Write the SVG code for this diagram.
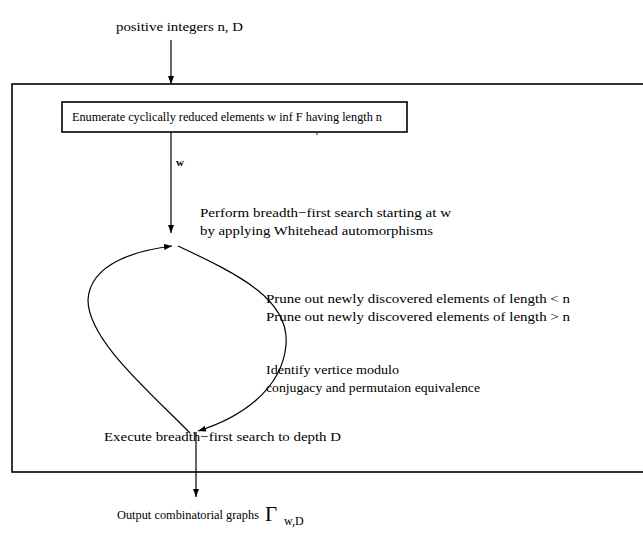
<svg xmlns="http://www.w3.org/2000/svg" width="643" height="546" viewBox="0 0 643 546">
  <style>
    text { font-family: "Liberation Serif", "Times New Roman", serif; font-size: 13.5px; fill: #000; }
    .sm { font-size: 11.8px; }
    .ln { fill: none; stroke: #000; stroke-width: 1.2; }
    .box { fill: none; stroke: #000; stroke-width: 1.6; }
  </style>
  <defs>
    <marker id="ah" markerWidth="8" markerHeight="6" refX="8" refY="3" orient="auto" markerUnits="userSpaceOnUse">
      <path d="M0,0 L8,3 L0,6 Z" fill="#000"/>
    </marker>
  </defs>
  <rect width="643" height="546" fill="#fff"/>

  <!-- outer frame, open beyond the right edge -->
  <g id="frame">
    <rect class="box" x="12" y="84" width="640" height="388"/>
  </g>

  <g id="input">
    <text class="sm" x="116" y="31" textLength="127" lengthAdjust="spacingAndGlyphs">positive integers n, D</text>
  </g>

  <g id="enumerate">
    <rect class="box" x="62" y="102" width="345" height="30"/>
    <text class="sm" x="72" y="121" textLength="310" lengthAdjust="spacingAndGlyphs">Enumerate cyclically reduced elements w inf F   having length n</text>
    <circle cx="317" cy="134" r="0.8" fill="#000"/>
  </g>

  <g id="bfs-start">
    <text x="200" y="217" textLength="251" lengthAdjust="spacingAndGlyphs">Perform breadth−first search starting at w</text>
    <text x="200" y="235" textLength="233" lengthAdjust="spacingAndGlyphs">by applying Whitehead automorphisms</text>
  </g>

  <g id="prune">
    <text x="266" y="303" textLength="304" lengthAdjust="spacingAndGlyphs">Prune out newly discovered elements of length &lt; n</text>
    <text x="266" y="321" textLength="304" lengthAdjust="spacingAndGlyphs">Prune out newly discovered elements of length &gt; n</text>
  </g>

  <g id="identify">
    <text x="266" y="374" textLength="133" lengthAdjust="spacingAndGlyphs">Identify vertice modulo</text>
    <text x="266" y="392" textLength="214" lengthAdjust="spacingAndGlyphs">conjugacy and permutaion equivalence</text>
  </g>

  <g id="execute">
    <text x="104" y="441" textLength="237" lengthAdjust="spacingAndGlyphs">Execute breadth−first search to depth D</text>
  </g>

  <g id="output">
    <text class="sm" x="117" y="519" textLength="142" lengthAdjust="spacingAndGlyphs">Output combinatorial graphs</text>
    <text x="265" y="521" style="font-size:21px">Γ</text>
    <text x="284" y="525" style="font-size:12px">w,D</text>
  </g>

  <g id="connectors">
    <line class="ln" x1="171" y1="40" x2="171" y2="84" marker-end="url(#ah)"/>
    <line class="ln" x1="171" y1="132" x2="171" y2="233" marker-end="url(#ah)"/>
    <text x="176" y="166" style="font-size:11px; font-weight:bold">w</text>
    <path class="ln" d="M190,433 C150,392 88,340 88,300 C90,262 140,250 172,246" marker-end="url(#ah)"/>
    <path class="ln" d="M178,246 C240,275 290,300 286,345 C282,390 240,418 198,431" marker-end="url(#ah)"/>
    <line class="ln" x1="196" y1="432" x2="196" y2="497" marker-end="url(#ah)"/>
  </g>
</svg>
